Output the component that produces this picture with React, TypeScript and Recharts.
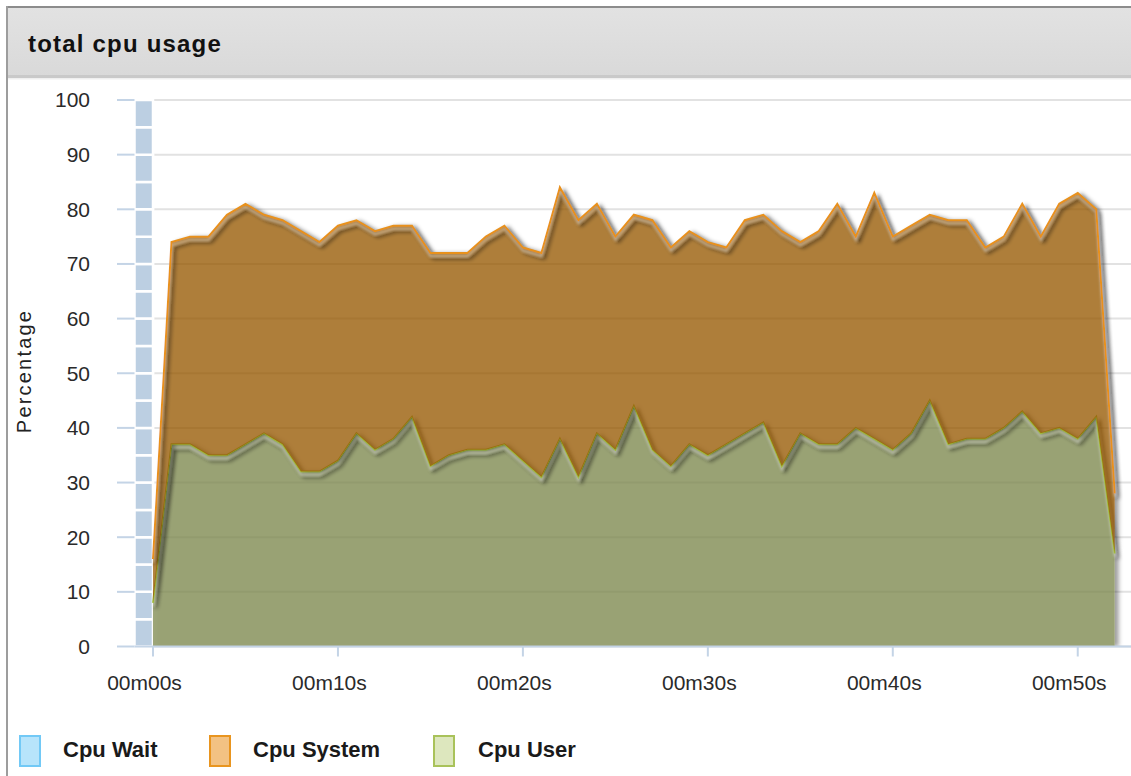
import React from 'react';
import { AreaChart, Area, XAxis, YAxis, CartesianGrid, ReferenceArea } from 'recharts';

// ---- data ----
const seconds = [
  0, 1, 2, 3, 4, 5, 6, 7, 8, 9, 10, 11, 12, 13, 14, 15, 16, 17, 18, 19, 20, 21, 22, 23, 24, 25,
  26, 27, 28, 29, 30, 31, 32, 33, 34, 35, 36, 37, 38, 39, 40, 41, 42, 43, 44, 45, 46, 47, 48, 49,
  50, 51, 52,
];
const cpuUser = [
  8, 37, 37, 35, 35, 37, 39, 37, 32, 32, 34, 39, 36, 38, 42, 33, 35, 36, 36, 37, 34, 31, 38, 31, 39, 36,
  44, 36, 33, 37, 35, 37, 39, 41, 33, 39, 37, 37, 40, 38, 36, 39, 45, 37, 38, 38, 40, 43, 39, 40,
  38, 42, 17,
];
const cpuSystem = [
  8, 37, 38, 40, 44, 44, 40, 41, 44, 42, 43, 39, 40, 39, 35, 39, 37, 36, 39, 40, 39, 41, 46, 47, 42, 39,
  35, 42, 40, 39, 39, 36, 39, 38, 43, 35, 39, 44, 35, 45, 39, 38, 34, 41, 40, 35, 35, 38, 36, 41,
  45, 38, 11,
];
const xTickValues = [0, 10, 20, 30, 40, 50];
const xTickLabels = ['00m00s', '00m10s', '00m20s', '00m30s', '00m40s', '00m50s'];
const yTickValues = [0, 10, 20, 30, 40, 50, 60, 70, 80, 90, 100];
const waitBandSteps = [0, 5, 10, 15, 20, 25, 30, 35, 40, 45, 50, 55, 60, 65, 70, 75, 80, 85, 90, 95];
const seriesNames = ['Cpu Wait', 'Cpu System', 'Cpu User'];
const chartTitle = 'total cpu usage';
const yAxisTitle = 'Percentage';

const data = seconds.map((t, i) => ({ t, user: cpuUser[i], system: cpuSystem[i] }));

// ---- styles ----
const FONT = '"Liberation Sans", Arial, Helvetica, sans-serif';
const legendStyles = [
  { fill: '#b7e4fb', stroke: '#72c9f6', x: 20, tx: 63 },
  { fill: '#f3c283', stroke: '#e9951f', x: 210, tx: 253 },
  { fill: '#dde7be', stroke: '#a9c25a', x: 434, tx: 478 },
];
const axisBlue = '#c4d4e6';

export default function App() {
  return (
    <div style={{ position: 'absolute', left: 0, top: 0, width: 1131, height: 776, overflow: 'hidden', background: '#fff' }}>
      <style>{`
        .series .recharts-area-curve { filter: url(#lineShadow); }
        .series .recharts-area-area { filter: url(#edgeShadow); }
      `}</style>
      <svg width={1131} height={776} style={{ position: 'absolute', left: 0, top: 0 }}>
        <defs>
          <linearGradient id="hdr" x1="0" y1="0" x2="0" y2="1">
            <stop offset="0" stopColor="#e2e2e2" />
            <stop offset="1" stopColor="#d9d9d9" />
          </linearGradient>
          <filter id="lineShadow" filterUnits="userSpaceOnUse" x={-50} y={-50} width={1300} height={900}>
            <feGaussianBlur in="SourceAlpha" stdDeviation={2.2} result="b" />
            <feOffset in="b" dx={3} dy={4.5} result="o" />
            <feComponentTransfer in="o" result="s">
              <feFuncA type="linear" slope={0.75} />
            </feComponentTransfer>
            <feOffset in="SourceAlpha" dx={0} dy={2.5} result="o2" />
            <feGaussianBlur in="o2" stdDeviation={1} result="b2" />
            <feFlood floodColor="#ffffff" floodOpacity={0.35} result="w" />
            <feComposite in="w" in2="b2" operator="in" result="hl" />
            <feMerge>
              <feMergeNode in="s" />
              <feMergeNode in="hl" />
              <feMergeNode in="SourceGraphic" />
            </feMerge>
          </filter>
          <filter id="edgeShadow" filterUnits="userSpaceOnUse" x={-50} y={-50} width={1300} height={900}>
            <feGaussianBlur in="SourceAlpha" stdDeviation={2} result="b" />
            <feOffset in="b" dx={4} dy={0} result="o" />
            <feComponentTransfer in="o" result="s">
              <feFuncA type="linear" slope={0.5} />
            </feComponentTransfer>
            <feComposite in="s" in2="SourceAlpha" operator="out" result="so" />
            <feMerge>
              <feMergeNode in="so" />
              <feMergeNode in="SourceGraphic" />
            </feMerge>
          </filter>
        </defs>
        <rect x={8} y={8} width={1123} height={68} fill="url(#hdr)" />
        <rect x={8} y={75} width={1123} height={3} fill="#c9c9c9" />
        <rect x={8} y={78} width={1123} height={1.5} fill="#efefef" />
        <rect x={6} y={6} width={1125} height={2} fill="#8c8c8c" />
        <rect x={6} y={6} width={2} height={770} fill="#9d9d9d" />
        <text x={28} y={52} fontFamily={FONT} fontWeight="bold" fontSize={24} letterSpacing={1.2} fill="#111">
          {chartTitle}
        </text>
        <text
          x={31}
          y={371}
          transform="rotate(-90 31 371)"
          textAnchor="middle"
          fontFamily={FONT}
          fontSize={20}
          letterSpacing={2.2}
          fill="#222"
        >
          {yAxisTitle}
        </text>
        {seriesNames.map((name, i) => (
          <g key={name}>
            <rect
              x={legendStyles[i].x}
              y={736}
              width={20}
              height={30}
              fill={legendStyles[i].fill}
              stroke={legendStyles[i].stroke}
              strokeWidth={2}
            />
            <text x={legendStyles[i].tx} y={757} fontFamily={FONT} fontWeight="bold" fontSize={22} fill="#1a1a1a">
              {name}
            </text>
          </g>
        ))}
      </svg>
      <div style={{ position: 'absolute', left: 0, top: 0 }}>
        <AreaChart width={1131} height={710} data={data} margin={{ top: 100, right: 0, bottom: 0, left: 0 }}>
          <CartesianGrid horizontal vertical={false} stroke="#e2e2e2" strokeWidth={2} />
          <XAxis
            dataKey="t"
            type="number"
            domain={[-1, 52.88]}
            allowDataOverflow
            ticks={xTickValues}
            interval={0}
            tickFormatter={(v: number) => xTickLabels[xTickValues.indexOf(v)]}
            height={63.5}
            tickSize={10}
            tickMargin={18.5}
            axisLine={{ stroke: axisBlue, strokeWidth: 2 }}
            tickLine={{ stroke: axisBlue, strokeWidth: 2 }}
            tick={{ fill: '#2a2a2a', fontSize: 21, fontFamily: FONT, dx: -8.5 }}
          />
          <YAxis
            type="number"
            domain={[0, 100]}
            allowDataOverflow
            ticks={yTickValues}
            interval={0}
            width={134.5}
            tickSize={17.5}
            tickMargin={27}
            axisLine={false}
            tickLine={{ stroke: axisBlue, strokeWidth: 2 }}
            tick={{ fill: '#2a2a2a', fontSize: 21, fontFamily: FONT }}
          />
          {waitBandSteps.map((v) => (
            <ReferenceArea
              key={v}
              x1={-1}
              x2={0}
              y1={v}
              y2={v + 5}
              fill="#bccfe2"
              fillOpacity={1}
              stroke="#ffffff"
              strokeWidth={2.5}
            />
          ))}
          <Area
            type="linear"
            dataKey="user"
            name={seriesNames[2]}
            stackId="cpu"
            stroke="#a3c043"
            strokeWidth={2}
            fill="rgb(124,136,78)"
            fillOpacity={0.75}
            className="series"
            dot={false}
            activeDot={false}
            isAnimationActive={false}
          />
          <Area
            type="linear"
            dataKey="system"
            name={seriesNames[1]}
            stackId="cpu"
            stroke="#e8911c"
            strokeWidth={2}
            fill="rgb(152,88,5)"
            fillOpacity={0.75}
            className="series"
            dot={false}
            activeDot={false}
            isAnimationActive={false}
          />
        </AreaChart>
      </div>
    </div>
  );
}
